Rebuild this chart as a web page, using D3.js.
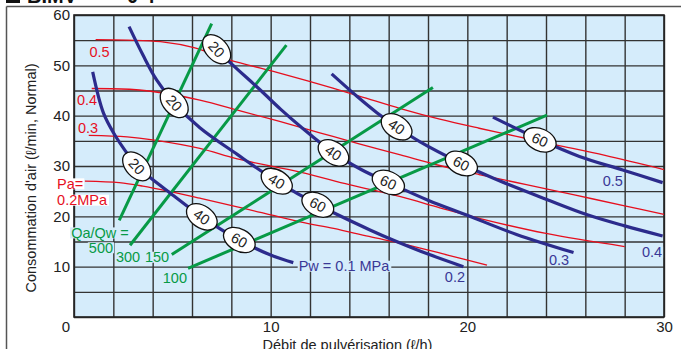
<!DOCTYPE html>
<html><head><meta charset="utf-8">
<script src="https://cdn.jsdelivr.net/npm/d3@7"></script>
<style>
body{margin:0;background:#fff}
svg{display:block}
text{font-family:"Liberation Sans",Arial,sans-serif}
</style>
</head><body>
<svg id="c" width="681" height="349"></svg>
<script>
// ---------- data ----------
const xTickLabels = [10, 20, 30];
const yTickLabels = [10, 20, 30, 40, 50, 60];
const xGridValues = [0,2,4,6,8,10,12,14,16,18,20,22,24,26,28,30];
const yGridValues = [0,5,10,15,20,25,30,35,40,45,50,55,60];

// air pressure curves (Pa, MPa)
const paNames = ["0.5", "0.4", "0.3", "0.2"];
const pa05 = [[1.1,55.1],[2.7,55.0],[4.4,54.7],[6.1,53.5],[7.9,51.1],[10.5,48.4],[12.5,46.2],[14.5,43.9],[16.6,41.4],[18.6,39.3],[20.6,37.5],[22.5,35.9],[24.5,34.2],[27,32.1],[30,29.3]];
const pa04 = [[0.9,45.4],[3,45.2],[4.5,44.5],[6.4,43.1],[8.5,40.9],[10.5,38.8],[12.5,36.6],[14.5,34.4],[16.6,32.2],[18.6,30.1],[20.6,28.3],[23,26.3],[25.5,24.2],[28,22.1],[30,20.4]];
const pa03 = [[0.75,36.1],[2.7,35.8],[4.0,35.2],[6.4,33.5],[8.3,31.4],[11.5,28.8],[14,26.3],[16.6,23.9],[18.6,21.7],[20.6,19.6],[24,16.6],[28,14.0]];
const pa02 = [[0.55,27.0],[2.3,26.7],[3.5,26.0],[4.9,24.9],[6.4,23.6],[8.3,21.9],[11.5,18.9],[13.2,17.6],[15,16.0],[17,14.3],[19,12.3],[21,10.3]];

// water pressure curves (Pw, MPa)
const pwNames = ["0.1", "0.2", "0.3", "0.4", "0.5"];
const pw01 = [[0.95,48.7],[1.5,40.5],[2.1,36.0],[2.7,32.5],[3.2,29.9],[3.9,27.6],[4.9,24.6],[6.5,19.9],[8.4,15.3],[10,12.3],[11.15,10.8]];
const pw02 = [[2.8,57.7],[3.5,52.1],[4.2,47.1],[5.1,42.5],[6.4,37.6],[8.3,32.3],[10.3,27.0],[12.4,22.3],[15.05,17.3],[16.4,15.0],[18,12.5],[19.8,10.0]];
const pw03 = [[6.95,54.6],[7.25,53.2],[7.9,50.7],[9.5,45.0],[10.5,41.3],[11.5,37.9],[13.2,32.6],[14.6,29.3],[16.0,26.7],[18,23.2],[20,20.2],[22.5,16.4],[25.4,12.8]];
const pw04 = [[13.1,48.3],[14.4,43.8],[15.4,40.6],[16.4,37.8],[17.6,34.8],[19.7,30.5],[21.3,27.6],[24.0,23.4],[26.1,20.3],[28.0,18.1],[29.93,16.1]];
const pw05 = [[21.3,39.7],[23.7,35.2],[25.7,31.9],[27.9,29.2],[29.93,26.7]];

// Qa/Qw ratio lines (end points)
const ratioNames = ["500", "300", "150", "100"];
const q500 = [[2.3,19.2],[7.0,58.3]];
const q300 = [[2.85,14.25],[10.8,54.0]];
const q150 = [[4.97,12.4],[18.25,45.6]];
const q100 = [[5.8,9.67],[24.05,40.1]];

// oval marks on the Pw curves: [curve index, x value, text]
const ovalMarks = [[0,3.2,"20"],[0,6.5,"40"],[0,8.4,"60"],[1,5.1,"20"],[1,10.3,"40"],[1,12.4,"60"],[2,7.25,"20"],[2,13.2,"40"],[2,16.0,"60"],[3,16.4,"40"],[3,19.7,"60"],[4,23.7,"60"]];

// annotation texts in data coordinates
const redNotes = [["0.5",1.30,52.65],["0.4",0.66,43.1],["0.3",0.71,37.55]];
const paNotes = [["Pa=",-0.86,26.5],["0.2MPa",-0.86,23.25]];
const greenNotes = [["Qa/Qw =",1.32,16.75],["500",1.37,13.8],["300",2.75,11.92],["150",4.22,11.92],["100",5.13,7.75]];
const blueNotes = [["Pw = 0.1 MPa",13.73,10.13],["0.2",19.37,7.95],["0.3",24.66,11.33],["0.4",29.39,12.91],["0.5",27.4,27.0]];

// ---------- drawing ----------
const RED = "#e60f1e", GREEN = "#079a46", BLUE = "#2c2b8c", BLUET = "#3a3896", BG = "#d5ecfb", GRID = "#333";
const svg = d3.select("#c");
const x = d3.scaleLinear().domain([0,30]).range([74,664]);
const y = d3.scaleLinear().domain([0,60]).range([317,15]);

// frame + cropped title
svg.append("line").attr("x1",6.5).attr("y1",6.5).attr("x2",681).attr("y2",6.5).attr("stroke","#555").attr("stroke-width",1.5);
svg.append("line").attr("x1",6.5).attr("y1",6.5).attr("x2",6.5).attr("y2",349).attr("stroke","#555").attr("stroke-width",1.5);
svg.append("rect").attr("x",6).attr("y",-12).attr("width",14).attr("height",15).attr("fill","#111");
svg.append("text").attr("x",27).attr("y",3).attr("font-size",20).attr("font-weight","bold").attr("fill","#111").text("BIMV");
svg.append("text").attr("x",92).attr("y",3).attr("font-size",20).attr("font-weight","bold").attr("fill","#bbb").text("- -");
svg.append("text").attr("x",127).attr("y",3).attr("font-size",20).attr("font-weight","bold").attr("fill","#111").text("0 4");

// plot background
svg.append("rect").attr("x",x(0)).attr("y",y(60)).attr("width",x(30)-x(0)).attr("height",y(0)-y(60)).attr("fill",BG);

// grid via axes
const gx = svg.append("g").attr("transform",`translate(0,${y(0)})`)
  .call(d3.axisBottom(x).tickValues(xGridValues).tickSize(-(y(0)-y(60))).tickFormat(""));
const gy = svg.append("g").attr("transform",`translate(${x(0)},0)`)
  .call(d3.axisLeft(y).tickValues(yGridValues).tickSize(-(x(30)-x(0))).tickFormat(""));
[gx,gy].forEach(g=>{ g.select(".domain").remove(); g.selectAll("line").attr("stroke",GRID).attr("stroke-width",1.4); });

// tick labels
const tx = svg.append("g").attr("transform",`translate(0,${y(0)})`)
  .call(d3.axisBottom(x).tickValues(xTickLabels).tickSize(0).tickPadding(4));
const ty = svg.append("g").attr("transform",`translate(${x(0)},0)`)
  .call(d3.axisLeft(y).tickValues(yTickLabels).tickSize(0).tickPadding(4));
[tx,ty].forEach(g=>{ g.select(".domain").remove(); g.selectAll("text").attr("font-size",15).attr("fill","#222").attr("font-family","Liberation Sans, Arial, sans-serif"); });
svg.append("text").attr("x",x(0)-8).attr("y",y(0)+14.5).attr("text-anchor","middle").attr("font-size",15).attr("fill","#222").text("0");

// border
svg.append("rect").attr("x",x(0)).attr("y",y(60)).attr("width",x(30)-x(0)).attr("height",y(0)-y(60)).attr("fill","none").attr("stroke","#222").attr("stroke-width",1.6);

const line = d3.line().x(d=>x(d[0])).y(d=>y(d[1])).curve(d3.curveCatmullRom.alpha(0.5));

// red curves
[pa05,pa04,pa03,pa02].forEach(c=>{
  svg.append("path").attr("d",line(c)).attr("fill","none").attr("stroke",RED).attr("stroke-width",1.3);
});
// green lines
[q500,q300,q150,q100].forEach(c=>{
  svg.append("path").attr("d",d3.line().x(d=>x(d[0])).y(d=>y(d[1]))(c)).attr("fill","none").attr("stroke",GREEN).attr("stroke-width",3);
});
// blue curves
const bluePaths = [pw01,pw02,pw03,pw04,pw05].map(c=>
  svg.append("path").attr("d",line(c)).attr("fill","none").attr("stroke",BLUE).attr("stroke-width",3.2).node());

// ovals
ovalMarks.forEach(([ci,xv,t])=>{
  const p = bluePaths[ci], L = p.getTotalLength(), px = x(xv);
  let best=0, bd=1e9;
  for(let i=0;i<=600;i++){ const q=p.getPointAtLength(L*i/600); const d=Math.abs(q.x-px); if(d<bd){bd=d;best=L*i/600;} }
  const a = p.getPointAtLength(Math.max(0,best-4)), b = p.getPointAtLength(Math.min(L,best+4)), c = p.getPointAtLength(best);
  const ang = Math.atan2(b.y-a.y, b.x-a.x)*180/Math.PI;
  const g = svg.append("g").attr("transform",`translate(${c.x},${c.y}) rotate(${ang})`);
  g.append("ellipse").attr("rx",17).attr("ry",11).attr("fill","#fff").attr("stroke","#111").attr("stroke-width",1.3);
  g.append("text").attr("text-anchor","middle").attr("dy","0.36em").attr("font-size",14.5).attr("fill","#222").text(t);
});

// notes with knock-out background
function note(list, color, bg, anchor){
  list.forEach(([t,xv,yv])=>{
    const g = svg.append("g");
    const r = g.append("rect");
    const tt = g.append("text").attr("x",x(xv)).attr("y",y(yv)).attr("dy","0.36em")
      .attr("text-anchor",anchor).attr("font-size",14.5).attr("fill",color).text(t);
    if(bg){ const bb = tt.node().getBBox(); r.attr("x",bb.x-1).attr("y",bb.y+2.5).attr("width",bb.width+2).attr("height",bb.height-5).attr("fill",bg); }
    else r.remove();
  });
}
note(redNotes, RED, null, "middle");
note(paNotes, RED, "#fff", "start");
note(greenNotes, GREEN, BG, "middle");
note(blueNotes, BLUET, BG, "middle");

// axis titles
svg.append("text").attr("x",347.5).attr("y",349.5).attr("text-anchor","middle").attr("font-size",14.5).attr("fill","#222").text("Débit de pulvérisation (ℓ/h)");
svg.append("text").attr("transform","translate(31,178) rotate(-90)").attr("dy","0.36em").attr("text-anchor","middle").attr("font-size",14.5).attr("fill","#222").text("Consommation d'air (ℓ/min, Normal)");
</script>
</body></html>
